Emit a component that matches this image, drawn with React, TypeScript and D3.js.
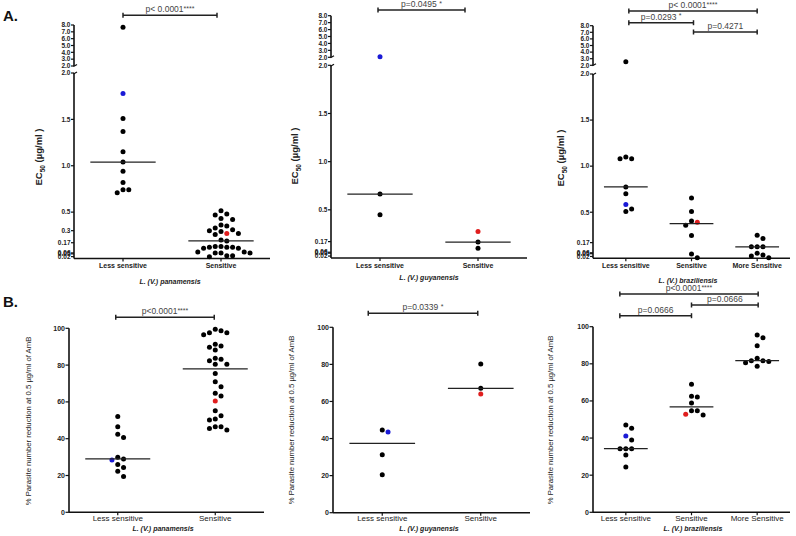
import React from 'react';
import * as d3 from 'd3';

const FONT = '"Liberation Sans", Arial, Helvetica, sans-serif';

// ---- A. EC50 (µg/ml) ----
const catsTwo = ['Less sensitive', 'Sensitive'];
const catsThree = ['Less sensitive', 'Sensitive', 'More Sensitive'];

const a1Less = [7.67, 1.78, 1.51, 1.37, 1.15, 1.04, 0.94, 0.82, 0.74, 0.74, 0.71];
const a1Sens = [0.515, 0.48, 0.47, 0.43, 0.42, 0.36, 0.35, 0.33, 0.31, 0.3, 0.29, 0.27, 0.27, 0.26, 0.2, 0.19,
  0.13, 0.13, 0.12, 0.12, 0.12, 0.11, 0.11, 0.07, 0.07, 0.06, 0.06, 0.06, 0.03, 0.03, 0.02];
const a1Blue = 1.78;
const a1Red = 0.27;

const a2Less = [2.09, 0.663, 0.45];
const a2Sens = [0.274, 0.165, 0.1];
const a2Blue = 2.09;
const a2Red = 0.274;

const a3Less = [2.55, 1.1, 1.08, 1.08, 0.775, 0.7, 0.584, 0.536, 0.507];
const a3Sens = [0.655, 0.507, 0.406, 0.392, 0.36, 0.247, 0.046, 0.006];
const a3More = [0.25, 0.215, 0.125, 0.125, 0.125, 0.054, 0.035, 0.024, 0.006];
const a3Blue = 0.584;
const a3Red = 0.392;

const ecUpperTicks = [2, 3, 4, 5, 6, 7, 8];
const ecLowerTicksA1 = [0.02, 0.05, 0.06, 0.17, 0.3, 0.5, 1.0, 1.5, 2.0];
const ecLowerTicks = [0.02, 0.05, 0.06, 0.17, 0.5, 1.0, 1.5, 2.0];

// ---- B. % parasite number reduction ----
const b1Less = [52, 46.5, 42.4, 40.6, 29.9, 29, 28.4, 26, 24.3, 22.3, 19.4];
const b1Sens = [99.5, 97.6, 96.5, 97.6, 98.7, 91.3, 89.7, 88.2, 90.4, 83.2, 83.7, 82.4, 80.4, 80.4, 75.5, 71, 68.3,
  63.2, 64.7, 60.5, 55.2, 52.5, 50.7, 50.2, 46.5, 44.7, 45.6, 46.5];
const b1Blue = 28.4;
const b1Red = 60.5;

const b2Less = [44.6, 43.5, 31.3, 20.5];
const b2Sens = [80.2, 67.1, 64.0];
const b2Blue = 43.5;
const b2Red = 64.0;

const b3Less = [47, 45.3, 41.1, 39, 34.3, 34.3, 34.3, 30.9, 24.4];
const b3Sens = [69, 62.1, 62.5, 58.9, 54.7, 54.7, 52.4, 52.8];
const b3More = [95.5, 94.1, 89.8, 83, 81.7, 81.7, 81.3, 80.6, 78.7];
const b3Blue = 41.1;
const b3Red = 52.8;

const pctTicks = [0, 20, 40, 60, 80, 100];

const BLUE = '#1a1ad6';
const RED = '#e01e1e';
const R = 2.5;
const STEP = 5.8;

type Bracket = { a: number; b: number; y: number; label: string; stars?: string; dxa?: number; dxb?: number };

type PanelCfg = {
  kind: 'ec' | 'pct';
  cats: string[];
  groups: number[][];
  blue: number;
  red: number;
  x0: number; x1: number;
  // ec
  y8?: number; y2u?: number; y2l?: number; yz?: number; lowerTicks?: number[];
  // pct
  y0?: number; y100?: number;
  titleX: number; titleY: number;
  species: string; speciesX: number; speciesY: number; catY: number;
  brackets: Bracket[];
};

function swarm(values: number[], y: (v: number) => number, cx: number) {
  const order = values.map((_, i) => i).sort((p, q) => values[q] - values[p]);
  const placed: [number, number][] = [];
  const out: [number, number][] = new Array(values.length);
  for (const i of order) {
    const py = y(values[i]);
    let px = cx;
    for (let k = 0; k < 30; k++) {
      const off = k === 0 ? 0 : (k % 2 ? 1 : -1) * Math.ceil(k / 2) * STEP;
      const ok = placed.every(p => Math.hypot(p[0] - (cx + off), p[1] - py) >= STEP * 0.97);
      if (ok) { px = cx + off; break; }
    }
    placed.push([px, py]);
    out[i] = [px, py];
  }
  return out;
}

function median(v: number[]) {
  return d3.median(v) as number;
}

const fmtEc = (v: number) => (v >= 1 || v === 0.5 || v === 0.3 ? v.toFixed(1) : String(v));

function Panel({ cfg }: { cfg: PanelCfg }) {
  const x = d3.scaleBand<string>().domain(cfg.cats).range([cfg.x0, cfg.x1]);
  const bw = x.bandwidth();
  const cx = (c: string) => (x(c) as number) + bw / 2;

  let yPos: (v: number) => number;
  let axisEls: JSX.Element[] = [];
  let baseY: number;
  if (cfg.kind === 'ec') {
    const lower = d3.scaleLinear().domain([0, 2]).range([cfg.yz!, cfg.y2l!]);
    const upper = d3.scaleLinear().domain([2, 8]).range([cfg.y2u!, cfg.y8!]);
    yPos = v => (v <= 2 ? lower(v) : upper(v));
    baseY = cfg.yz!;
    axisEls.push(<line key="ul" x1={cfg.x0} x2={cfg.x0} y1={upper(8)} y2={upper(2)} stroke="#111" strokeWidth={1.6} />);
    axisEls.push(<line key="ll" x1={cfg.x0} x2={cfg.x0} y1={lower(2)} y2={lower(0)} stroke="#111" strokeWidth={1.6} />);
    axisEls.push(<line key="ub" x1={cfg.x0 - 0.5} x2={cfg.x0 + 3} y1={upper(2) + 0.5} y2={upper(2) - 1.5} stroke="#111" strokeWidth={1.2} />);
    axisEls.push(<line key="lb" x1={cfg.x0 - 0.5} x2={cfg.x0 + 3} y1={lower(2) + 1} y2={lower(2) - 1} stroke="#111" strokeWidth={1.2} />);
    ecUpperTicks.forEach(t => {
      axisEls.push(
        <g key={'u' + t}>
          <line x1={cfg.x0 - 3} x2={cfg.x0} y1={upper(t)} y2={upper(t)} stroke="#111" strokeWidth={1.2} />
          <text x={cfg.x0 - 3.5} y={upper(t)} dy="0.35em" textAnchor="end" fontSize={6.5} fontWeight="bold" fill="#222">{t.toFixed(1)}</text>
        </g>
      );
    });
    cfg.lowerTicks!.forEach(t => {
      axisEls.push(
        <g key={'l' + t}>
          <line x1={cfg.x0 - 3} x2={cfg.x0} y1={lower(t)} y2={lower(t)} stroke="#111" strokeWidth={1.2} />
          <text x={cfg.x0 - 3.5} y={lower(t)} dy="0.35em" textAnchor="end" fontSize={6.5} fontWeight="bold" fill="#222">{fmtEc(t)}</text>
        </g>
      );
    });
  } else {
    const ys = d3.scaleLinear().domain([0, 100]).range([cfg.y0!, cfg.y100!]);
    yPos = v => ys(v);
    baseY = cfg.y0!;
    axisEls.push(<line key="yl" x1={cfg.x0} x2={cfg.x0} y1={ys(100)} y2={ys(0)} stroke="#111" strokeWidth={1.6} />);
    pctTicks.forEach(t => {
      axisEls.push(
        <g key={'p' + t}>
          <line x1={cfg.x0 - 3.5} x2={cfg.x0} y1={ys(t)} y2={ys(t)} stroke="#111" strokeWidth={1.2} />
          <text x={cfg.x0 - 4} y={ys(t)} dy="0.35em" textAnchor="end" fontSize={7} fontWeight="bold" fill="#222">{t}</text>
        </g>
      );
    });
  }

  const ec = cfg.kind === 'ec';

  return (
    <g fontFamily={FONT}>
      {axisEls}
      <line x1={cfg.x0} x2={cfg.x1} y1={baseY} y2={baseY} stroke="#111" strokeWidth={1.6} />
      {cfg.cats.map(c => (
        <g key={c}>
          <line x1={cx(c)} x2={cx(c)} y1={baseY} y2={baseY + 3} stroke="#111" strokeWidth={1.2} />
          <text x={cx(c)} y={cfg.catY} textAnchor="middle" fontSize={ec ? 7 : 8} fontWeight={ec ? 'bold' : 'normal'} fill="#222">{c}</text>
        </g>
      ))}
      {cfg.groups.map((g, gi) => {
        const c = cfg.cats[gi];
        const pts = swarm(g, yPos, cx(c));
        const m = yPos(median(g));
        let blueDone = false;
        let redDone = false;
        return (
          <g key={gi}>
            {pts.map((p, i) => {
              let fill = '#000';
              if (gi === 0 && !blueDone && g[i] === cfg.blue) { fill = BLUE; blueDone = true; }
              if (gi === 1 && !redDone && g[i] === cfg.red) { fill = RED; redDone = true; }
              return <circle key={i} cx={p[0]} cy={p[1]} r={R} fill={fill} />;
            })}
            <line x1={cx(c) - bw / 3} x2={cx(c) + bw / 3} y1={m} y2={m} stroke="#222" strokeWidth={1.2} />
          </g>
        );
      })}
      <text transform={`translate(${cfg.titleX},${cfg.titleY}) rotate(-90)`} textAnchor="middle"
        fontSize={ec ? 9.5 : 7.7} fontWeight={ec ? 'bold' : 'normal'} fill="#222">
        {ec ? (
          <>
            <tspan>EC</tspan>
            <tspan fontSize={6.5} dy={2.5}>50</tspan>
            <tspan dy={-2.5}> (µg/ml )</tspan>
          </>
        ) : '% Parasite number reduction at 0.5 µg/ml of AmB'}
      </text>
      <text x={cfg.speciesX} y={cfg.speciesY} textAnchor="middle" fontSize={7} fontWeight="bold" fontStyle="italic" fill="#222">{cfg.species}</text>
      {cfg.brackets.map((b, i) => {
        const xa = cx(cfg.cats[b.a]) + (b.dxa || 0);
        const xb = cx(cfg.cats[b.b]) + (b.dxb || 0);
        return (
          <g key={'b' + i}>
            <line x1={xa} x2={xb} y1={b.y} y2={b.y} stroke="#222" strokeWidth={1.5} />
            <line x1={xa} x2={xa} y1={b.y - 2.5} y2={b.y + 2.5} stroke="#222" strokeWidth={1.5} />
            <line x1={xb} x2={xb} y1={b.y - 2.5} y2={b.y + 2.5} stroke="#222" strokeWidth={1.5} />
            <text x={(xa + xb) / 2} y={b.y - 3} textAnchor="middle" fontSize={8.5} fill="#444">
              {b.label}
              {b.stars ? <tspan fontSize={7} dy={-1.5}>{b.stars}</tspan> : null}
            </text>
          </g>
        );
      })}
    </g>
  );
}

const panels: PanelCfg[] = [
  {
    kind: 'ec', cats: catsTwo, groups: [a1Less, a1Sens], blue: a1Blue, red: a1Red,
    x0: 74, x1: 270, y8: 25, y2u: 66, y2l: 73, yz: 258.5, lowerTicks: ecLowerTicksA1,
    titleX: 42, titleY: 157, species: 'L. (V.) panamensis', speciesX: 170, speciesY: 284, catY: 268,
    brackets: [{ a: 0, b: 1, y: 15.3, label: 'p< 0.0001', stars: '****', dxb: -4 }],
  },
  {
    kind: 'ec', cats: catsTwo, groups: [a2Less, a2Sens], blue: a2Blue, red: a2Red,
    x0: 331, x1: 527, y8: 15.7, y2u: 57.3, y2l: 65.3, yz: 258, lowerTicks: ecLowerTicks,
    titleX: 298, titleY: 156, species: 'L. (V.) guyanensis', speciesX: 429, speciesY: 280, catY: 268,
    brackets: [{ a: 0, b: 1, y: 10, label: 'p=0.0495 ', stars: '*', dxa: -2, dxb: -13 }],
  },
  {
    kind: 'ec', cats: catsThree, groups: [a3Less, a3Sens, a3More], blue: a3Blue, red: a3Red,
    x0: 593, x1: 790, y8: 25.7, y2u: 65.3, y2l: 74, yz: 258.3, lowerTicks: ecLowerTicks,
    titleX: 564, titleY: 158, species: 'L. (V.) braziliensis', speciesX: 688, speciesY: 283, catY: 268,
    brackets: [
      { a: 0, b: 2, y: 11, label: 'p< 0.0001', stars: '****', dxa: 3 },
      { a: 0, b: 1, y: 22.7, label: 'p=0.0293 ', stars: '*', dxa: 3, dxb: 2 },
      { a: 1, b: 2, y: 32, label: 'p=0.4271', dxa: 2 },
    ],
  },
  {
    kind: 'pct', cats: catsTwo, groups: [b1Less, b1Sens], blue: b1Blue, red: b1Red,
    x0: 69, x1: 264, y0: 512.3, y100: 328.3,
    titleX: 31, titleY: 421, species: 'L. (V.) panamensis', speciesX: 163, speciesY: 531, catY: 521,
    brackets: [{ a: 0, b: 1, y: 317.3, label: 'p<0.0001', stars: '****', dxa: -2, dxb: -1 }],
  },
  {
    kind: 'pct', cats: catsTwo, groups: [b2Less, b2Sens], blue: b2Blue, red: b2Red,
    x0: 333, x1: 530, y0: 512.7, y100: 327.3,
    titleX: 294, titleY: 420, species: 'L. (V.) guyanensis', speciesX: 429, speciesY: 531, catY: 521,
    brackets: [{ a: 0, b: 1, y: 313.3, label: 'p=0.0339 ', stars: '*', dxa: -14, dxb: -3 }],
  },
  {
    kind: 'pct', cats: catsThree, groups: [b3Less, b3Sens, b3More], blue: b3Blue, red: b3Red,
    x0: 593, x1: 790, y0: 512.3, y100: 326.7,
    titleX: 553, titleY: 420, species: 'L. (V.) braziliensis', speciesX: 693, speciesY: 531, catY: 521,
    brackets: [
      { a: 0, b: 2, y: 294, label: 'p<0.0001', stars: '****', dxa: -6, dxb: 1 },
      { a: 1, b: 2, y: 305, label: 'p=0.0666', dxb: 1 },
      { a: 0, b: 1, y: 315.7, label: 'p=0.0666', dxa: -6 },
    ],
  },
];

export default function App() {
  return (
    <svg width={796} height={536} style={{ position: 'absolute', left: 0, top: 0, background: '#fff' }}>
      <rect width={796} height={536} fill="#fff" />
      <text x={3} y={21} fontFamily={FONT} fontSize={15} fontWeight="bold" fill="#111">A.</text>
      <text x={3} y={307} fontFamily={FONT} fontSize={15} fontWeight="bold" fill="#111">B.</text>
      {panels.map((p, i) => <Panel key={i} cfg={p} />)}
    </svg>
  );
}
